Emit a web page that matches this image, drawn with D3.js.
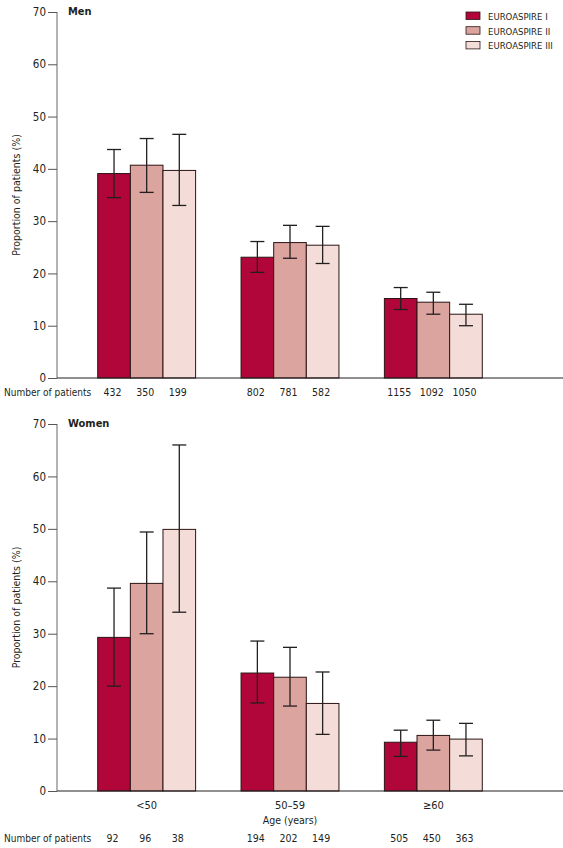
<!DOCTYPE html>
<html>
<head>
<meta charset="utf-8">
<script src="https://cdn.jsdelivr.net/npm/d3@7"></script>
<style>
  body { margin: 0; background: #fff; }
  svg { display: block; }
  text { font-family: "Liberation Sans Narrow", "DejaVu Sans Condensed", "Roboto", sans-serif; fill: #231f20; }
</style>
</head>
<body>
<svg id="chart" width="563" height="848"></svg>
<script>
const ageGroups = ["<50", "50–59", "≥60"];
const seriesNames = ["EUROASPIRE I", "EUROASPIRE II", "EUROASPIRE III"];
const seriesColors = ["#b1063a", "#dca49f", "#f4ddd8"];
const yTicks = [0, 10, 20, 30, 40, 50, 60, 70];

// Men: values, lower CI, upper CI per age group, per series
const menValues = [[39.1, 40.7, 39.7], [23.1, 25.9, 25.4], [15.2, 14.5, 12.2]];
const menLow    = [[34.5, 35.5, 33.0], [20.2, 22.9, 21.9], [13.1, 12.2, 10.0]];
const menHigh   = [[43.7, 45.8, 46.6], [26.1, 29.2, 29.0], [17.3, 16.4, 14.1]];
const menN      = [[432, 350, 199], [802, 781, 582], [1155, 1092, 1050]];

// Women
const womenValues = [[29.3, 39.6, 49.9], [22.5, 21.7, 16.7], [9.3, 10.6, 9.9]];
const womenLow    = [[20.0, 30.0, 34.1], [16.8, 16.2, 10.8], [6.6, 7.8, 6.7]];
const womenHigh   = [[38.7, 49.4, 66.0], [28.6, 27.4, 22.7], [11.6, 13.5, 12.9]];
const womenN      = [[92, 96, 38], [194, 202, 149], [505, 450, 363]];

const svg = d3.select("#chart");
const axisX = 57, rightX = 563;

const x0 = d3.scaleBand().domain(ageGroups).range([75, 505]).paddingInner(0.317).paddingOuter(0.1585);
const x1 = d3.scaleBand().domain(seriesNames).range([0, x0.bandwidth()]);

function panel(opts) {
  const { top, bottom, title, values, low, high, ns, showCats, nY } = opts;
  const y = d3.scaleLinear().domain([0, 70]).range([bottom, top]);
  const g = svg.append("g");

  // y axis
  const ax = g.append("g").attr("transform", `translate(${axisX},0)`)
    .call(d3.axisLeft(y).tickValues(yTicks).tickSize(9).tickPadding(2).tickFormat(d3.format("d")));
  ax.select(".domain").attr("stroke", "#8a8a8a").attr("stroke-width", 1.3).attr("d", `M0,${top}V${bottom}`);
  ax.selectAll(".tick line").attr("stroke", "#555").attr("stroke-width", 1);
  ax.selectAll(".tick text").attr("font-size", 11.5).attr("fill", "#231f20")
    .style("font-family", '"Liberation Sans Narrow", "DejaVu Sans Condensed", sans-serif');

  // y title
  g.append("text")
    .attr("transform", `translate(20,${(top + bottom) / 2}) rotate(-90)`)
    .attr("text-anchor", "middle").attr("font-size", 10.5)
    .text("Proportion of patients (%)");

  // panel title
  g.append("text").attr("x", 68).attr("y", top + 3).attr("font-size", 11).attr("font-weight", "bold").text(title);

  // bars
  ageGroups.forEach((cat, gi) => {
    const gg = g.append("g").attr("transform", `translate(${x0(cat)},0)`);
    seriesNames.forEach((s, si) => {
      const v = values[gi][si];
      gg.append("rect")
        .attr("x", x1(s)).attr("width", x1.bandwidth())
        .attr("y", y(v)).attr("height", y(0) - y(v))
        .attr("fill", seriesColors[si]).attr("stroke", "#2b1414").attr("stroke-width", 1);
    });
    seriesNames.forEach((s, si) => {
      const cx = x1(s) + x1.bandwidth() / 2;
      const lo = low[gi][si], hi = high[gi][si];
      const eg = gg.append("g").attr("stroke", "#231f20").attr("stroke-width", 1.3);
      eg.append("line").attr("x1", cx).attr("x2", cx).attr("y1", y(lo)).attr("y2", y(hi));
      eg.append("line").attr("x1", cx - 7).attr("x2", cx + 7).attr("y1", y(lo)).attr("y2", y(lo));
      eg.append("line").attr("x1", cx - 7).attr("x2", cx + 7).attr("y1", y(hi)).attr("y2", y(hi));
      // patient counts
      g.append("text").attr("x", x0(cat) + cx - 1.5).attr("y", nY).attr("text-anchor", "middle")
        .attr("font-size", 10.5).text(ns[gi][si]);
    });
  });

  // baseline
  g.append("line").attr("x1", axisX).attr("x2", rightX).attr("y1", y(0)).attr("y2", y(0))
    .attr("stroke", "#231f20").attr("stroke-width", 1.2);

  g.append("text").attr("x", 4).attr("y", nY).attr("font-size", 10).text("Number of patients");

  if (showCats) {
    ageGroups.forEach(cat => {
      g.append("text").attr("x", x0(cat) + x0.bandwidth() / 2).attr("y", bottom + 18)
        .attr("text-anchor", "middle").attr("font-size", 11).text(cat);
    });
    g.append("text").attr("x", x0(ageGroups[1]) + x0.bandwidth() / 2).attr("y", bottom + 33)
      .attr("text-anchor", "middle").attr("font-size", 10.5).text("Age (years)");
  }
}

panel({ top: 12, bottom: 378, title: "Men", values: menValues, low: menLow, high: menHigh, ns: menN, showCats: false, nY: 396 });
panel({ top: 424, bottom: 791, title: "Women", values: womenValues, low: womenLow, high: womenHigh, ns: womenN, showCats: true, nY: 842 });

// legend
const lg = svg.append("g").attr("transform", "translate(466,12)");
seriesNames.forEach((s, i) => {
  lg.append("rect").attr("x", 0).attr("y", i * 14.7).attr("width", 14).attr("height", 7.5)
    .attr("fill", seriesColors[i]).attr("stroke", "#2b1414").attr("stroke-width", 0.8);
  lg.append("text").attr("x", 22).attr("y", i * 14.7 + 8).attr("font-size", 9.5).text(s);
});
</script>
</body>
</html>
